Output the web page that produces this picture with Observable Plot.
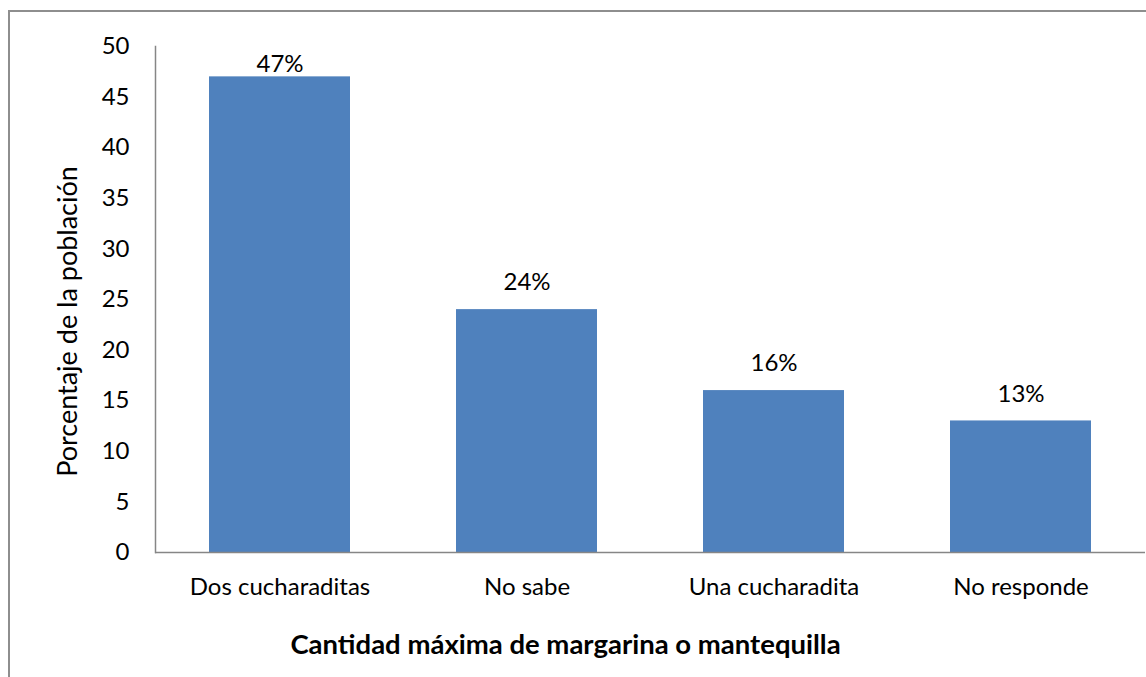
<!DOCTYPE html>
<html>
<head>
<meta charset="utf-8">
<script src="https://cdn.jsdelivr.net/npm/d3@7"></script>
<script src="https://cdn.jsdelivr.net/npm/@observablehq/plot@0.6"></script>
<style>
  html, body { margin: 0; padding: 0; background: #fff; }
  #chart { position: relative; width: 1146px; height: 677px; overflow: hidden; }
  #frame { position: absolute; left: 8px; top: 10px; width: 1200px; height: 800px; border: 2px solid #8e8e8e; box-sizing: border-box; pointer-events: none; }
  svg { display: block; }
</style>
</head>
<body>
<div id="chart"><div id="frame"></div></div>
<script>
const categories = ["Dos cucharaditas", "No sabe", "Una cucharadita", "No responde"];
const values = [47, 24, 16, 13];
const valueLabels = ["47%", "24%", "16%", "13%"];
const yTicks = [0, 5, 10, 15, 20, 25, 30, 35, 40, 45, 50];
const yTitle = "Porcentaje de la población";
const xTitle = "Cantidad máxima de margarina o mantequilla";

const data = categories.map((c, i) => ({category: c, value: values[i], label: valueLabels[i]}));

const font = "Lato, 'Open Sans', sans-serif";

const chart = Plot.plot({
  width: 1146,
  height: 677,
  marginLeft: 155,
  marginRight: 1,
  marginTop: 46,
  marginBottom: 125,
  style: {fontFamily: font, fontSize: "24px", color: "#000", background: "transparent", overflow: "visible"},
  x: {domain: categories, paddingInner: 0.43, paddingOuter: 0.215},
  y: {domain: [0, 50]},
  marks: [
    Plot.barY(data, {x: "category", y: "value", fill: "#4F81BD"}),
    Plot.frame({anchor: "left", stroke: "#868686", strokeWidth: 1.5}),
    Plot.ruleY([0], {stroke: "#868686", strokeWidth: 1.5}),
    Plot.axisY({ticks: yTicks, tickSize: 0, tickPadding: 26, label: null, fontSize: 24, fill: "#000"}),
    Plot.axisX({tickSize: 0, tickPadding: 25, label: null, fontSize: 24, fill: "#000"}),
    Plot.text(data, {
      x: "category",
      y: d => Math.min(d.value + 2.65, 48.25),
      text: "label",
      fontSize: 24,
      fill: "#000",
      lineAnchor: "middle"
    }),
    Plot.text([yTitle], {frameAnchor: "left", rotate: -90, dx: -87, dy: 22, fontSize: 27, fill: "#000", textAnchor: "middle", lineAnchor: "middle"}),
    Plot.text([xTitle], {frameAnchor: "bottom", dx: -85, dy: 93, fontSize: 27.5, fontWeight: "bold", fill: "#000", textAnchor: "middle", lineAnchor: "middle"})
  ]
});
document.getElementById("chart").insertBefore(chart, document.getElementById("frame"));
</script>
</body>
</html>
